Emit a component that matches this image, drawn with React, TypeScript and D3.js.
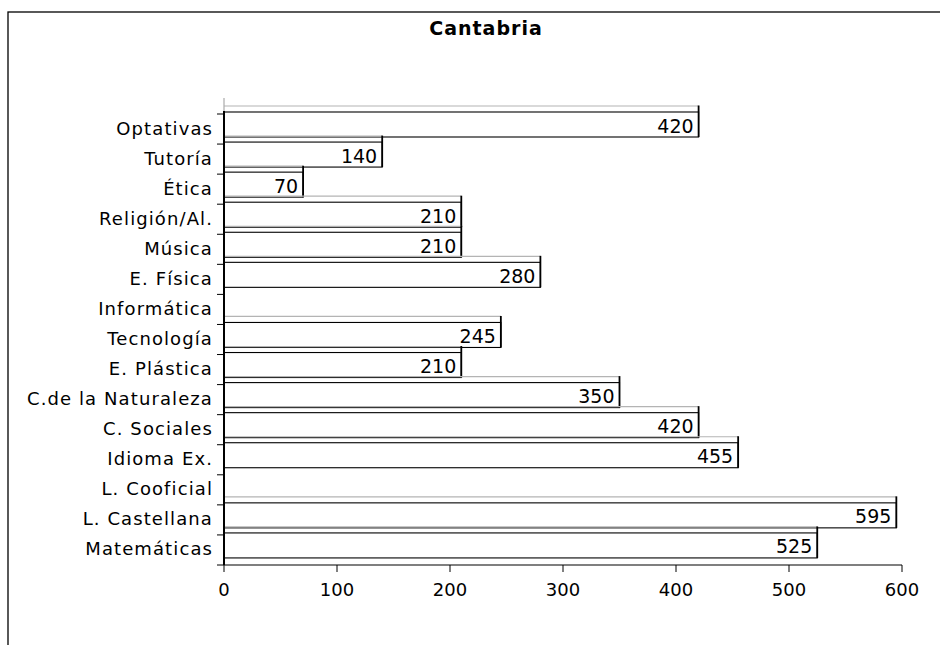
import React from "react";
import * as d3 from "d3";

const title = "Cantabria";
const categories = [
  "Optativas",
  "Tutoría",
  "Ética",
  "Religión/Al.",
  "Música",
  "E. Física",
  "Informática",
  "Tecnología",
  "E. Plástica",
  "C.de la Naturaleza",
  "C. Sociales",
  "Idioma Ex.",
  "L. Cooficial",
  "L. Castellana",
  "Matemáticas",
];
const values: (number | null)[] = [420, 140, 70, 210, 210, 280, null, 245, 210, 350, 420, 455, null, 595, 525];
const xTicks = [0, 100, 200, 300, 400, 500, 600];

const W = 940;
const H = 645;
const FONT = "'DejaVu Sans', Verdana, sans-serif";

export default function App() {
  const x = d3.scaleLinear().domain([0, 600]).range([224, 902]);
  const y = d3.scaleBand<string>().domain(categories).range([114, 565]).paddingInner(0).paddingOuter(0);
  const bw = y.bandwidth();
  const x0 = x(0);
  const yBottom = 565;

  const boundaries = categories.map((c) => y(c) as number).concat([yBottom]);

  return (
    <svg
      width={W}
      height={H}
      style={{ position: "absolute", left: 0, top: 0, background: "#fff" }}
      fontFamily={FONT}
    >
      <rect x={0} y={0} width={W} height={H} fill="#fff" />
      {/* chart frame (extends beyond view) */}
      <rect x={8} y={12} width={1000} height={800} fill="none" stroke="#000" strokeWidth={1.3} />
      <text x={486} y={34.5} textAnchor="middle" fontWeight="bold" fontSize={19} letterSpacing={1}>
        {title}
      </text>

      {/* bars */}
      {categories.map((c, i) => {
        const v = values[i];
        if (v == null) return null;
        const top = y(c) as number;
        const xe = x(v);
        return (
          <g key={c}>
            <line x1={x0} x2={xe} y1={top - 8} y2={top - 8} stroke="#b4b4b4" strokeWidth={1.2} />
            <rect x={x0} y={top - 2} width={xe - x0} height={25} fill="#fff" stroke="#000" strokeWidth={1.1} />
            <line x1={xe} x2={xe} y1={top - 8.5} y2={top + 23} stroke="#000" strokeWidth={1.8} />
            <text x={xe - 5} y={top + 18.5} textAnchor="end" fontSize={19}>
              {v}
            </text>
          </g>
        );
      })}

      {/* y axis */}
      <line x1={x0} x2={x0} y1={98} y2={112} stroke="#aaa" strokeWidth={1.2} />
      <line x1={x0} x2={x0} y1={111} y2={yBottom} stroke="#000" strokeWidth={2} />
      {boundaries.map((b, i) => (
        <line key={i} x1={217} x2={x0} y1={b} y2={b} stroke="#000" strokeWidth={1} />
      ))}
      {categories.map((c) => (
        <text
          key={c}
          x={213}
          y={(y(c) as number) + bw / 2 + 5.5}
          textAnchor="end"
          fontSize={18}
          letterSpacing={1.1}
        >
          {c}
        </text>
      ))}

      {/* x axis */}
      <line x1={x0} x2={x(600)} y1={yBottom} y2={yBottom} stroke="#000" strokeWidth={1.2} />
      {xTicks.map((t) => (
        <g key={t}>
          <line x1={x(t)} x2={x(t)} y1={yBottom} y2={yBottom + 7} stroke="#000" strokeWidth={1} />
          <text x={x(t)} y={596} textAnchor="middle" fontSize={18}>
            {t}
          </text>
        </g>
      ))}
    </svg>
  );
}
